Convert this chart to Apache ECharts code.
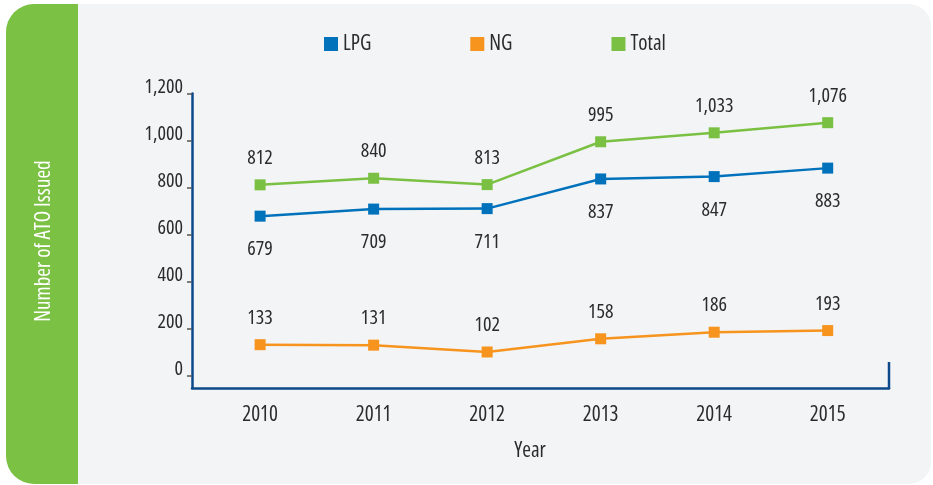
<!DOCTYPE html>
<html>
<head>
<meta charset="utf-8">
<script src="https://cdn.jsdelivr.net/npm/echarts@6/dist/echarts.min.js"></script>
<style>
  html, body { margin: 0; padding: 0; background: #ffffff; }
  #chart { width: 933px; height: 485px; }
</style>
</head>
<body>
<div id="chart"></div>
<script>
// Authorisations to operate issued per year
const years = [2010, 2011, 2012, 2013, 2014, 2015];
const lpg = [679, 709, 711, 837, 847, 883];
const ng = [133, 131, 102, 158, 186, 193];
const total = [812, 840, 813, 995, 1033, 1076];
const yTicks = [0, 200, 400, 600, 800, 1000, 1200];

// condensed sans face for all chart text
const FAMILY = '"Open Sans", "DejaVu Sans Condensed", sans-serif';
const STRETCH = 'condensed';
const TEXT = '#2b2b2b';
const AXIS = '#0d4a8a';

const fmt = v => Number(v).toLocaleString('en-US');
const pairs = arr => years.map((y, i) => [y, arr[i]]);
const txt = (size, color) => ({ fontFamily: FAMILY, fontStyle: STRETCH, fontSize: size, color: color || TEXT });

function lineSeries(name, color, arr, pos, dist) {
  return {
    name: name,
    type: 'line',
    data: pairs(arr),
    symbol: 'rect',
    symbolSize: 11,
    itemStyle: { color: color },
    lineStyle: { color: color, width: 2.5 },
    label: Object.assign({
      show: true,
      position: pos,
      distance: dist,
      formatter: p => fmt(p.value[1])
    }, txt(20)),
    emphasis: { disabled: true },
    animation: false
  };
}

const chart = echarts.init(document.getElementById('chart'), null, { renderer: 'canvas' });

chart.setOption({
  backgroundColor: 'transparent',
  animation: false,
  legend: {
    data: ['LPG', 'NG', 'Total'],
    left: 324,
    top: 33.5,
    padding: 0,
    icon: 'rect',
    itemWidth: 14,
    itemHeight: 14,
    itemGap: 99,
    textStyle: txt(21)
  },
  grid: {
    left: 192,
    right: 44,
    top: 93.5,
    bottom: 97,
    containLabel: false,
    outerBoundsMode: 'none'
  },
  xAxis: {
    type: 'value',
    min: 2009.40,
    max: 2015.54,
    axisLine: { show: true, onZero: false, lineStyle: { color: AXIS, width: 2.5 } },
    axisTick: { show: false },
    splitLine: { show: false },
    axisLabel: Object.assign({
      customValues: years,
      formatter: v => String(v),
      margin: 17
    }, txt(21))
  },
  yAxis: {
    type: 'value',
    min: -51,
    max: 1200,
    axisLine: { show: true, onZero: false, lineStyle: { color: AXIS, width: 2.5 } },
    axisTick: {
      show: true,
      customValues: yTicks,
      length: 5,
      lineStyle: { color: '#555555', width: 1.5 }
    },
    splitLine: { show: false },
    axisLabel: Object.assign({
      customValues: yTicks,
      formatter: v => fmt(v),
      margin: 9,
      verticalAlign: 'bottom',
      lineHeight: 13
    }, txt(20))
  },
  graphic: {
    elements: [
      {
        type: 'rect', z: -10, silent: true,
        shape: { x: 6, y: 4, width: 925, height: 480, r: [28, 22, 22, 28] },
        style: { fill: '#f3f4f6' }
      },
      {
        type: 'rect', z: -9, silent: true,
        shape: { x: 6, y: 4, width: 72, height: 480, r: [28, 0, 0, 28] },
        style: { fill: '#7bc143' }
      },
      {
        type: 'text', z: 5, silent: true,
        x: 44, y: 241, rotation: Math.PI / 2,
        style: {
          text: 'Number of ATO Issued',
          fill: '#ffffff',
          font: STRETCH + ' 21px ' + FAMILY,
          textAlign: 'center',
          textVerticalAlign: 'middle'
        }
      },
      {
        type: 'text', z: 5, silent: true,
        x: 530, y: 451,
        style: {
          text: 'Year',
          fill: TEXT,
          font: STRETCH + ' 21px ' + FAMILY,
          textAlign: 'center',
          textVerticalAlign: 'middle'
        }
      },
      {
        type: 'line', z: 5, silent: true,
        shape: { x1: 889, y1: 362, x2: 889, y2: 389 },
        style: { stroke: AXIS, lineWidth: 2.5 }
      }
    ]
  },
  series: [
    lineSeries('LPG', '#0072bc', lpg, 'bottom', 18),
    lineSeries('NG', '#f7941d', ng, 'top', 11),
    lineSeries('Total', '#7ac143', total, 'top', 11)
  ]
});
</script>
</body>
</html>
